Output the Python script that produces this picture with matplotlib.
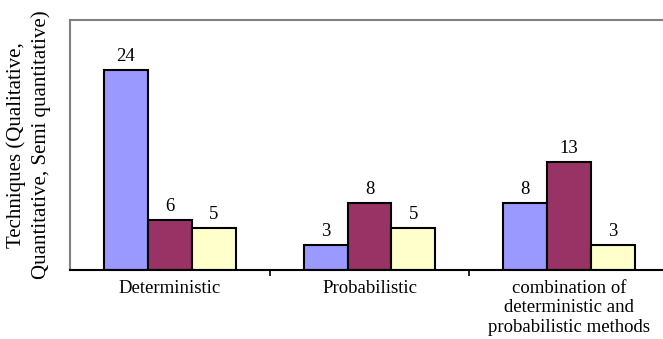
import numpy as np
import matplotlib.pyplot as plt

categories = ['Deterministic', 'Probabilistic',
              'combination of\ndeterministic and\nprobabilistic methods']
qualitative = [24, 3, 8]
quantitative = [6, 8, 13]
semi_quantitative = [5, 5, 3]

plt.rcParams['font.family'] = ['Liberation Serif', 'DejaVu Serif']

fig = plt.figure(figsize=(6.63, 3.39), dpi=100)
ax = fig.add_axes([70 / 663, 69 / 339, 599 / 663, 250 / 339])

x = np.arange(len(categories))
w = 0.22
series = [qualitative, quantitative, semi_quantitative]
colors = ['#9999FF', '#993366', '#FFFFCC']
for i, (vals, c) in enumerate(zip(series, colors)):
    bars = ax.bar(x + (i - 1) * w, vals, w, color=c, edgecolor='black', linewidth=1.5)
    for b, v in zip(bars, vals):
        ax.text(b.get_x() + b.get_width() / 2, v + 0.6, str(v),
                ha='center', va='bottom', fontsize=13.5)

ax.set_xlim(-0.5, 2.5)
ax.set_ylim(0, 30)
ax.set_yticks([])
ax.set_xticks([0.5, 1.5], minor=False)
ax.set_xticklabels([])
ax.tick_params(axis='x', direction='out', length=4, width=1.2, color='black')
ax.set_xticks(x, minor=True)
ax.set_xticklabels(categories, minor=True, fontsize=13.5, linespacing=1.2)
ax.tick_params(axis='x', which='minor', length=0, pad=7)

for s in ['top', 'left', 'right']:
    ax.spines[s].set_color('#808080')
    ax.spines[s].set_linewidth(1.5)
ax.spines['bottom'].set_linewidth(1.5)

ax.set_ylabel('Techniques (Qualitative,\nQuantitative, Semi quantitative)',
              fontsize=15, linespacing=1.3, labelpad=14)

fig.savefig('out.png', dpi=100)
